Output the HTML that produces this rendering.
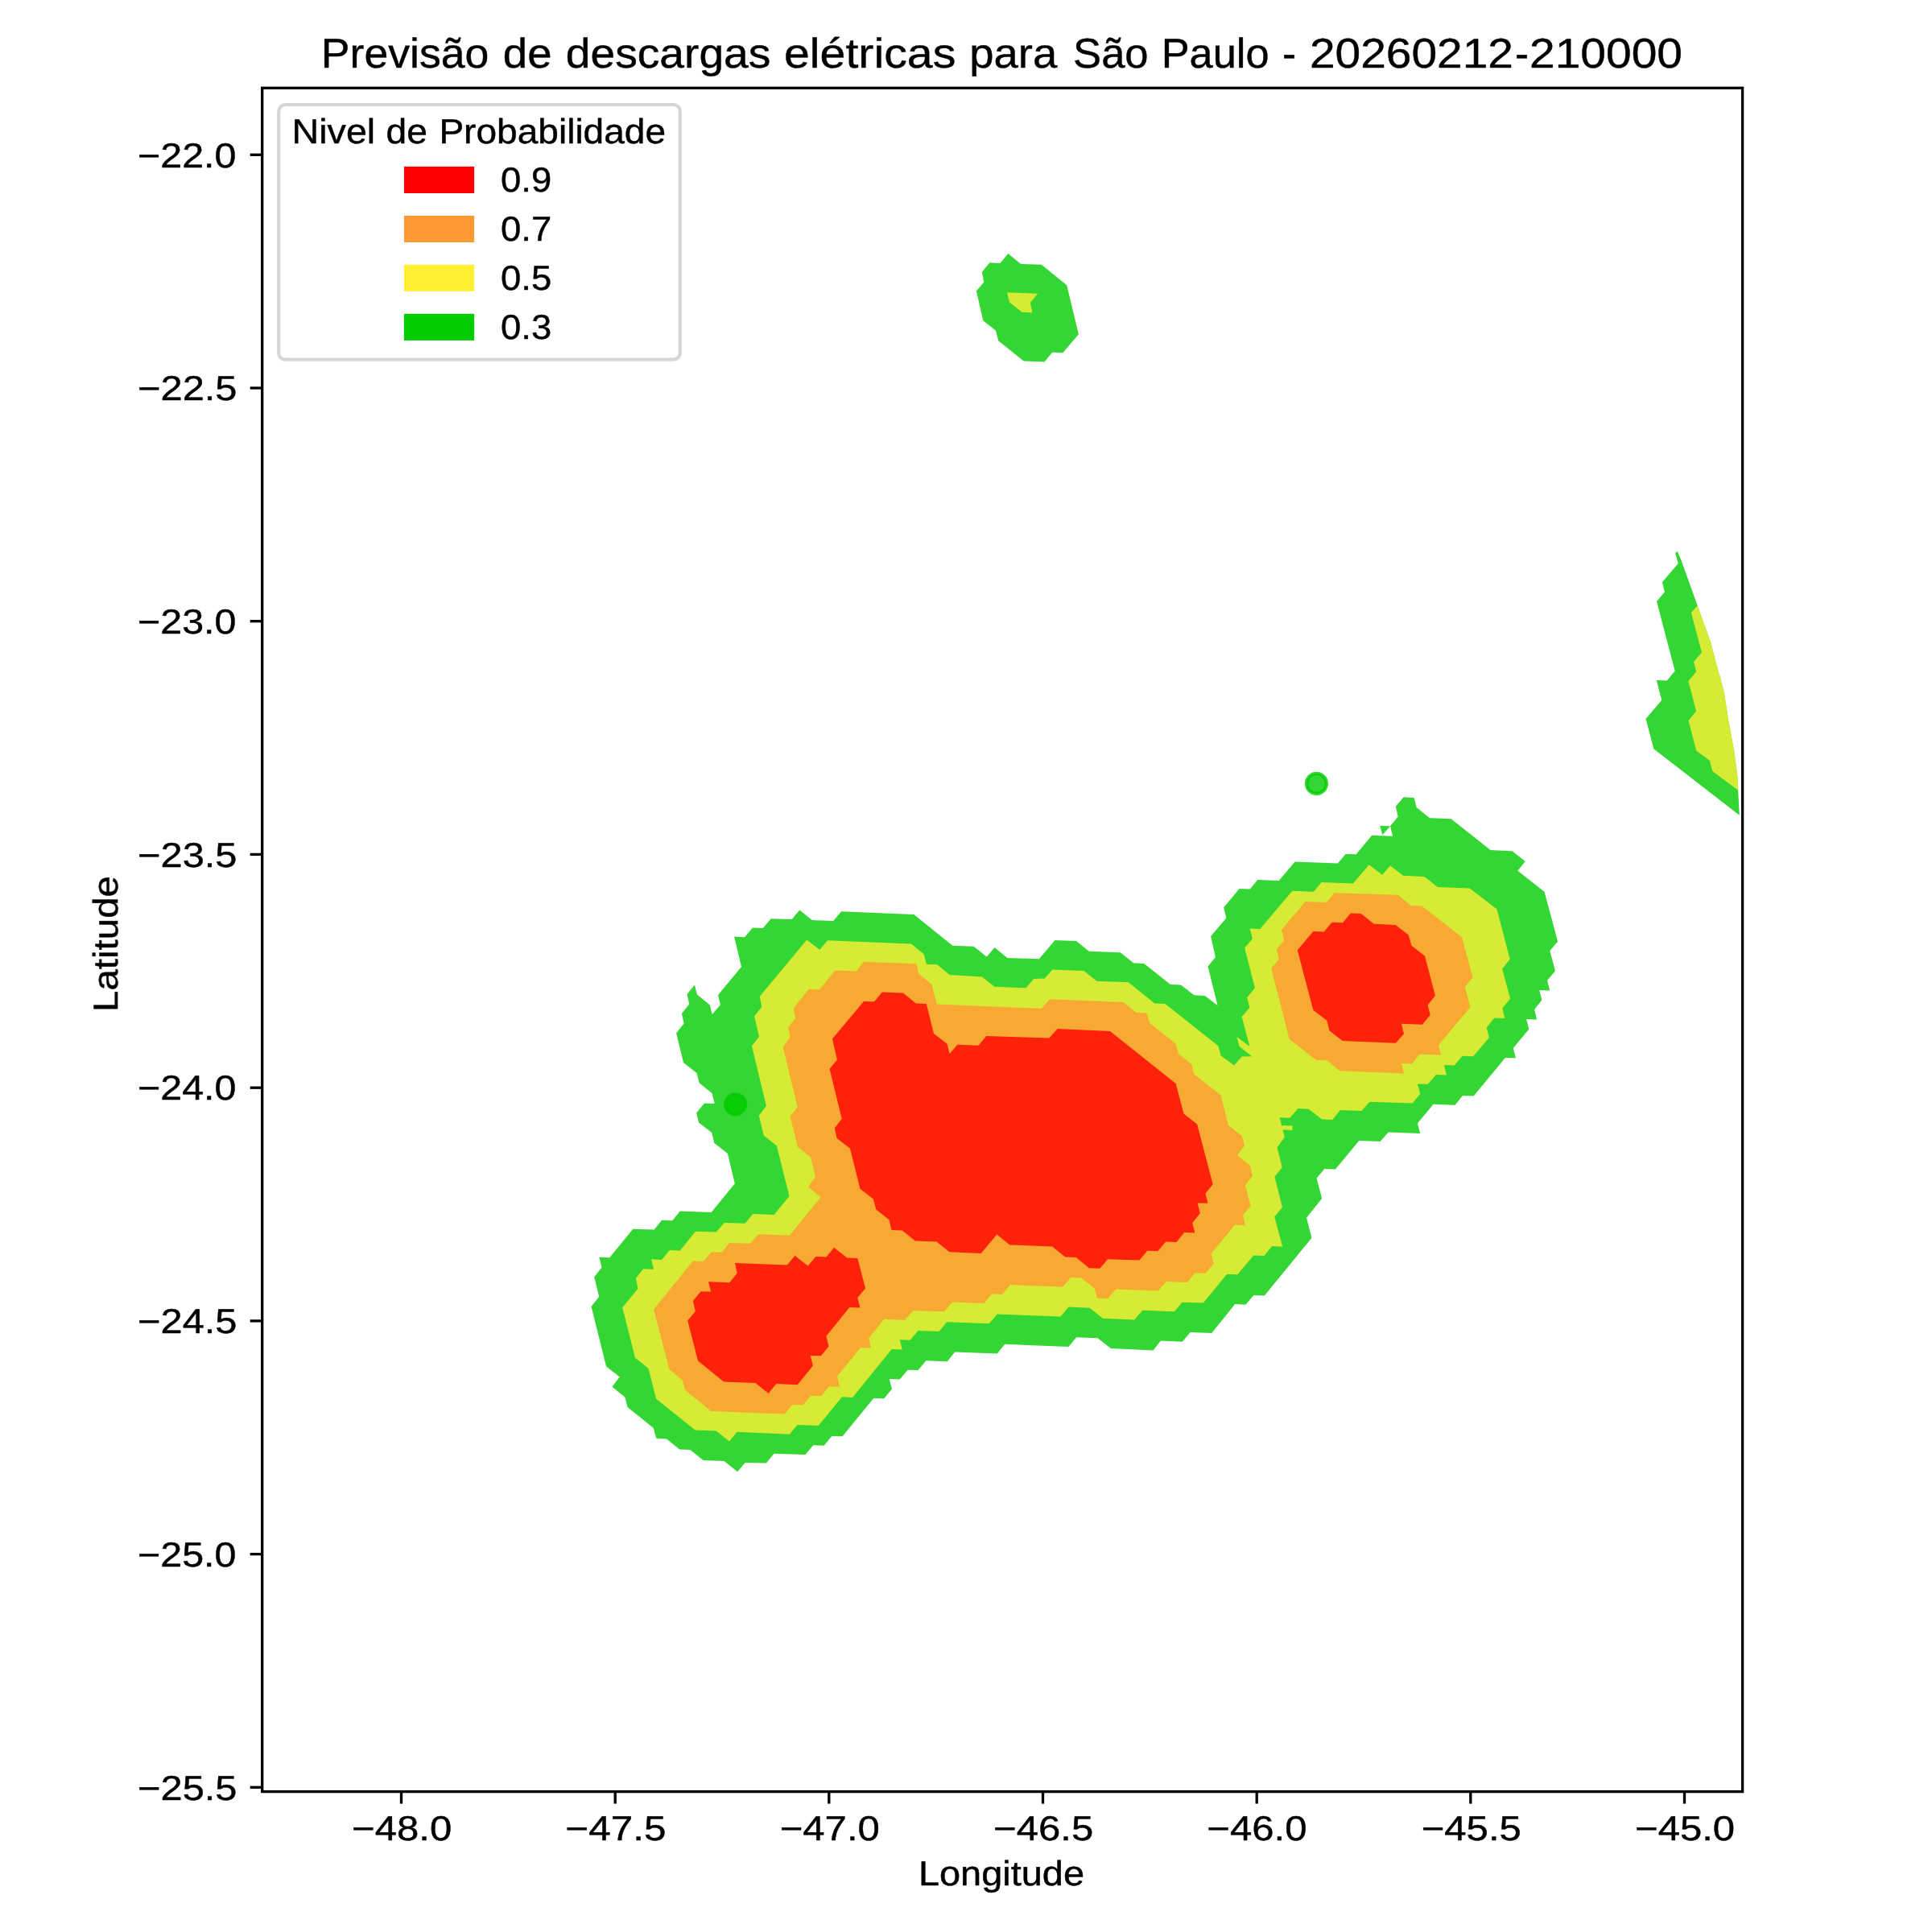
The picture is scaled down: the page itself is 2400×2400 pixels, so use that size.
<!DOCTYPE html>
<html><head><meta charset="utf-8"><title>Previsão de descargas elétricas</title>
<style>
html,body{margin:0;padding:0;background:#fff;}
svg{display:block;}
text{font-family:"Liberation Sans",sans-serif;fill:#000;text-rendering:geometricPrecision;stroke:#000;stroke-width:0.45px;stroke-linejoin:round;}
</style></head><body>
<svg width="2400" height="2400" viewBox="0 0 2400 2400">
<rect width="2400" height="2400" fill="#fff"/>
<defs><clipPath id="ax"><rect x="325.7" y="109.3" width="1838.9" height="2116.3"/></clipPath></defs>
<g clip-path="url(#ax)">
<path d="M912.8,1470.2 903.9,1432.9 887.3,1419.9 884.2,1407.0 868.0,1394.4 865.1,1382.6 874.9,1370.6 887.7,1371.0 884.6,1358.2 868.7,1345.3 865.5,1332.9 849.0,1320.1 840.1,1283.2 849.6,1271.4 846.9,1259.0 856.2,1247.4 853.5,1235.0 862.9,1223.4 866.0,1235.6 881.7,1248.2 884.8,1260.0 894.9,1248.2 892.0,1236.0 921.0,1201.0 912.1,1163.6 925.0,1164.2 934.9,1152.4 947.7,1153.0 957.7,1141.2 983.6,1142.0 993.3,1130.4 1008.8,1143.1 1035.3,1143.9 1045.1,1132.3 1135.3,1136.0 1183.4,1174.7 1209.6,1175.8 1225.8,1188.4 1235.5,1177.0 1251.5,1189.9 1290.8,1191.3 1310.5,1167.9 1337.0,1168.9 1352.9,1181.8 1391.8,1183.2 1408.0,1196.3 1421.2,1196.9 1454.0,1223.0 1467.0,1223.4 1483.4,1236.2 1496.8,1236.9 1512.5,1249.1 1500.5,1200.4 1509.9,1189.0 1504.1,1163.1 1523.3,1140.4 1520.2,1127.3 1539.5,1104.1 1552.7,1104.6 1562.3,1093.0 1588.7,1094.0 1608.6,1070.4 1661.8,1072.5 1671.5,1060.9 1684.6,1061.3 1704.2,1037.7 1730.1,1038.8 1727.0,1026.3 1736.7,1014.5 1733.8,1001.7 1743.6,990.3 1756.6,990.9 1759.7,1003.1 1776.1,1016.2 1802.6,1017.2 1851.6,1055.9 1878.6,1057.2 1894.7,1070.0 1885.4,1081.8 1918.5,1107.7 1935.1,1169.4 1925.3,1181.2 1932.0,1206.0 1922.0,1218.1 1925.3,1230.5 1912.3,1229.9 1915.4,1242.3 1906.1,1254.1 1909.2,1266.5 1896.1,1265.9 1899.3,1278.5 1879.8,1301.9 1882.9,1314.3 1869.9,1313.9 1830.6,1361.5 1817.1,1361.1 1807.4,1372.7 1780.5,1371.8 1760.8,1395.4 1764.3,1407.9 1724.6,1406.4 1714.6,1418.0 1688.3,1417.0 1658.9,1452.4 1645.3,1452.0 1635.5,1463.8 1642.2,1488.8 1623.0,1512.8 1629.4,1537.7 1570.8,1609.5 1557.3,1609.1 1547.4,1620.7 1534.2,1620.1 1505.2,1655.9 1478.7,1655.1 1468.7,1666.7 1442.0,1665.6 1432.5,1677.4 1379.8,1674.9 1363.6,1662.3 1337.1,1661.3 1327.4,1672.9 1248.3,1669.8 1238.8,1681.6 1186.2,1679.5 1176.7,1691.3 1150.4,1690.3 1140.7,1702.1 1127.6,1701.7 1117.7,1713.5 1104.8,1713.0 1108.0,1725.5 1098.2,1737.3 1085.2,1736.9 1046.5,1784.3 1033.3,1783.9 1023.7,1795.7 1010.3,1795.3 1000.5,1807.1 961.6,1805.7 951.9,1817.5 925.6,1816.9 916.1,1828.2 899.7,1815.0 873.6,1814.0 857.3,1800.9 844.2,1800.5 828.1,1787.5 815.2,1786.8 811.7,1774.0 779.6,1748.1 776.5,1735.7 760.4,1722.7 769.7,1710.4 753.1,1697.4 734.5,1622.9 744.2,1610.8 738.2,1586.2 747.5,1574.6 744.4,1561.8 757.3,1562.2 786.3,1526.8 812.5,1527.6 822.1,1515.8 835.3,1516.2 844.8,1504.4 883.6,1505.9ZM1714.2,1025.7 1727.0,1026.3 1717.3,1037.3ZM1252.3,315.1 1267.8,327.8 1293.7,328.8 1325.2,354.2 1339.9,415.3 1320.3,438.2 1307.1,437.8 1297.5,449.4 1271.6,448.4 1240.2,423.3 1236.9,410.6 1221.2,398.2 1212.9,361.4 1222.2,350.6 1219.9,337.8 1229.5,326.2 1242.4,326.9ZM2083.6,684.8 2088.0,694.8 2108.7,752.3 2125.3,798.4 2134.6,834.6 2136.6,840.0 2141.8,860.7 2147.0,893.8 2154.2,933.2 2158.9,968.4 2159.1,981.8 2160.8,1012.7 2054.3,930.3 2044.5,893.1 2064.2,869.8 2057.8,844.9 2070.7,845.5 2080.7,833.6 2058.0,747.1 2067.9,735.5 2064.9,723.3 2084.7,700.0 2081.1,687.4Z" fill="#00cc00" fill-opacity="0.8" stroke="#00cc00" stroke-opacity="0.8" stroke-width="0" />
<path d="M980.5,1486.1 964.9,1423.4 948.8,1410.6 942.8,1385.7 951.9,1373.7 933.9,1299.2 943.0,1287.8 937.0,1262.5 946.3,1251.1 943.8,1237.7 1002.2,1167.5 1018.3,1179.7 1028.1,1168.3 1132.0,1172.5 1147.7,1185.3 1150.8,1197.7 1164.1,1198.3 1179.8,1211.0 1220.0,1213.5 1235.5,1225.7 1274.5,1227.3 1284.2,1215.9 1297.6,1215.5 1307.4,1204.6 1346.3,1206.0 1362.4,1218.8 1401.8,1220.3 1434.3,1246.4 1447.3,1247.0 1513.4,1299.2 1516.5,1311.2 1533.0,1323.6 1542.6,1312.6 1555.0,1312.2 1539.5,1299.8 1536.4,1288.0 1552.3,1299.8 1542.6,1263.1 1552.3,1251.8 1549.2,1239.1 1558.9,1227.3 1546.1,1177.6 1555.8,1166.3 1552.7,1153.4 1565.3,1154.0 1605.3,1106.7 1631.8,1107.7 1641.7,1095.9 1680.8,1097.6 1700.7,1074.2 1717.1,1086.8 1727.0,1075.2 1743.1,1087.8 1769.4,1088.9 1786.0,1101.9 1825.8,1103.6 1859.5,1129.4 1875.7,1191.6 1866.1,1203.4 1876.1,1240.6 1866.3,1252.6 1869.4,1265.1 1856.4,1264.4 1846.7,1276.4 1849.8,1288.9 1830.1,1312.3 1816.6,1311.8 1806.7,1323.4 1793.9,1323.0 1797.0,1335.4 1783.9,1335.0 1773.8,1346.8 1760.8,1346.4 1764.3,1358.8 1754.6,1370.6 1701.4,1368.7 1691.4,1380.1 1664.9,1379.1 1655.2,1390.9 1642.2,1390.5 1625.8,1377.8 1612.3,1377.0 1602.4,1388.8 1589.6,1388.2 1595.8,1412.6 1586.5,1425.5 1592.7,1449.9 1583.4,1461.9 1593.0,1499.8 1583.2,1511.4 1593.2,1548.7 1580.1,1548.0 1570.4,1560.0 1557.3,1559.4 1537.3,1583.2 1524.2,1582.8 1494.8,1618.6 1468.5,1617.8 1458.8,1629.2 1419.3,1627.7 1409.3,1639.5 1369.9,1637.7 1353.7,1624.8 1327.4,1623.6 1317.5,1635.4 1238.8,1632.5 1228.7,1644.3 1176.3,1642.2 1166.5,1654.0 1140.5,1653.0 1130.7,1664.8 1117.7,1664.2 1120.8,1676.6 1107.7,1676.0 1059.1,1735.9 1046.1,1735.3 1016.7,1770.9 990.6,1769.9 980.9,1781.7 915.7,1778.8 905.9,1790.6 889.8,1777.5 863.5,1776.5 815.2,1737.8 805.5,1699.9 788.9,1686.6 773.2,1624.3 792.5,1600.7 789.8,1588.1 799.3,1576.3 812.1,1576.7 809.0,1564.3 822.1,1564.9 831.8,1552.9 844.8,1553.5 863.9,1529.7 889.8,1530.5 899.7,1518.9 925.6,1519.8 935.3,1508.0 961.6,1509.0ZM1592.7,1398.1 1605.5,1398.6 1605.5,1403.9 1592.7,1403.3ZM1250.9,363.2 1289.2,364.8 1279.9,376.1 1282.5,388.6 1269.5,387.8 1254.0,375.4ZM2108.7,752.3 2125.3,798.4 2134.6,834.6 2136.6,840.0 2141.8,860.7 2147.0,893.8 2154.2,933.2 2158.9,968.4 2159.1,981.8 2127.3,958.0 2123.9,945.1 2107.1,932.4 2097.5,895.1 2107.1,883.5 2097.3,846.0 2107.1,834.6 2104.0,822.2 2113.9,810.6 2100.9,761.1Z" fill="#fff033" fill-opacity="0.8" stroke="#fff033" stroke-opacity="0.8" stroke-width="0" />
<path d="M1019.4,1487.2 1003.9,1474.3 1013.0,1462.3 1007.0,1437.5 990.8,1424.6 981.5,1386.7 990.8,1375.4 972.6,1300.4 981.7,1288.8 979.0,1276.6 988.3,1264.8 985.6,1252.6 1004.9,1228.8 1018.1,1229.2 1037.4,1205.6 1063.7,1206.4 1073.0,1194.8 1138.2,1197.3 1141.3,1209.7 1157.5,1222.8 1163.7,1247.4 1293.9,1252.8 1303.9,1241.2 1395.6,1244.9 1411.5,1257.8 1424.6,1258.4 1428.1,1270.8 1460.6,1296.7 1463.9,1309.1 1480.5,1322.2 1483.4,1334.6 1516.5,1360.5 1526.0,1398.1 1542.6,1411.0 1546.1,1423.0 1536.8,1435.0 1552.7,1447.8 1556.0,1460.7 1546.7,1472.3 1553.6,1497.9 1543.9,1509.7 1547.0,1522.2 1534.0,1521.5 1504.6,1557.3 1507.7,1569.8 1497.7,1581.8 1484.5,1581.2 1474.9,1593.0 1448.7,1591.9 1438.7,1603.5 1386.0,1601.4 1376.1,1613.3 1363.0,1612.8 1359.5,1600.4 1343.4,1587.6 1330.1,1587.0 1320.6,1598.6 1254.9,1596.1 1245.0,1607.9 1232.2,1607.2 1222.4,1619.0 1183.1,1617.4 1173.2,1629.2 1134.2,1628.2 1124.1,1639.8 1098.2,1638.7 1079.2,1662.2 1081.9,1674.6 1068.9,1674.2 1039.9,1709.8 1043.0,1722.7 1029.9,1722.2 1020.2,1734.2 1007.2,1733.8 997.4,1745.4 984.4,1745.0 974.7,1756.6 883.1,1752.9 851.1,1726.8 847.7,1714.4 831.4,1701.1 812.1,1626.4 860.8,1566.5 873.8,1567.0 883.6,1555.4 896.6,1555.8 906.3,1544.0 932.2,1544.8 941.9,1533.2 980.9,1534.7ZM1621.4,1120.1 1647.7,1121.0 1657.6,1109.2 1736.7,1111.8 1752.9,1124.9 1766.3,1125.5 1816.0,1164.2 1829.5,1214.3 1819.8,1226.1 1826.4,1251.2 1787.0,1298.2 1790.1,1310.6 1763.6,1309.6 1753.9,1321.4 1740.9,1321.0 1744.0,1333.4 1664.5,1330.3 1648.3,1317.2 1634.9,1316.8 1601.7,1290.9 1579.2,1202.9 1588.7,1192.0 1585.8,1179.5 1595.1,1168.2 1592.0,1155.3Z" fill="#ff9933" fill-opacity="0.8" stroke="#ff9933" stroke-opacity="0.8" stroke-width="0" />
<path d="M1068.4,1476.8 1056.0,1426.7 1039.5,1414.1 1036.8,1401.2 1045.7,1389.9 1030.6,1327.7 1039.9,1316.4 1033.9,1290.5 1073.0,1243.9 1086.0,1244.3 1095.8,1232.5 1121.9,1233.5 1137.8,1246.4 1150.8,1247.0 1160.0,1283.9 1176.5,1296.7 1179.6,1309.1 1189.4,1297.7 1215.4,1298.8 1225.2,1287.0 1303.4,1289.6 1313.6,1278.1 1379.0,1281.0 1460.6,1346.0 1470.5,1383.6 1487.1,1396.5 1506.7,1471.2 1497.4,1482.6 1500.5,1494.8 1487.7,1494.4 1490.7,1507.2 1481.2,1519.0 1484.3,1531.5 1471.2,1531.1 1461.5,1542.9 1448.2,1542.4 1438.3,1554.2 1425.3,1553.8 1415.5,1565.6 1376.1,1564.2 1366.3,1575.8 1352.9,1575.2 1336.7,1562.1 1323.3,1561.5 1307.1,1548.4 1254.3,1546.4 1238.4,1533.5 1218.7,1556.9 1179.4,1555.3 1163.4,1542.4 1136.9,1541.4 1120.8,1528.4 1107.5,1528.0 1104.4,1515.3 1088.3,1502.5 1084.8,1489.6ZM913.0,1569.0 977.8,1571.5 987.5,1559.7 1003.6,1572.5 1013.4,1561.0 1026.4,1561.4 1036.1,1549.8 1052.3,1562.4 1065.3,1563.0 1075.1,1600.5 1065.3,1612.1 1068.4,1624.5 1055.4,1624.1 1026.4,1659.7 1029.5,1672.5 1019.8,1684.3 1006.7,1683.9 1009.9,1696.4 990.6,1720.2 964.3,1719.1 954.6,1730.9 938.4,1718.1 899.1,1716.4 867.0,1690.6 854.2,1640.5 863.9,1628.7 860.8,1616.0 870.5,1604.2 883.1,1604.6 880.0,1592.2 906.3,1593.3 915.7,1581.4ZM1611.7,1180.2 1631.3,1157.0 1644.6,1157.4 1654.5,1145.8 1668.0,1146.2 1677.7,1134.4 1690.8,1135.0 1706.9,1147.7 1733.6,1148.9 1749.8,1161.5 1753.3,1174.6 1769.9,1187.4 1782.9,1236.7 1773.6,1248.5 1776.7,1260.9 1766.7,1272.7 1740.9,1271.7 1744.0,1284.3 1733.8,1295.7 1667.6,1293.0 1651.4,1280.2 1648.3,1267.7 1631.3,1254.7Z" fill="#ff0000" fill-opacity="0.8" stroke="#ff0000" stroke-opacity="0.8" stroke-width="0" />
<circle cx="1635.4" cy="973.4" r="12.5" fill="#00cc00" fill-opacity="0.8" stroke="#00cc00" stroke-opacity="0.8" stroke-width="4.17"/>
<circle cx="913.5" cy="1371.8" r="12.5" fill="#00cc00" fill-opacity="0.8" stroke="#00cc00" stroke-opacity="0.8" stroke-width="4.17"/>
</g>
<g stroke="#000" stroke-width="3.33" fill="none">
<line x1="498.5" y1="2225.6" x2="498.5" y2="2240.6"/>
<line x1="764.2" y1="2225.6" x2="764.2" y2="2240.6"/>
<line x1="1029.8" y1="2225.6" x2="1029.8" y2="2240.6"/>
<line x1="1295.5" y1="2225.6" x2="1295.5" y2="2240.6"/>
<line x1="1561.2" y1="2225.6" x2="1561.2" y2="2240.6"/>
<line x1="1826.8" y1="2225.6" x2="1826.8" y2="2240.6"/>
<line x1="2092.5" y1="2225.6" x2="2092.5" y2="2240.6"/>
<line x1="325.7" y1="192.3" x2="310.7" y2="192.3"/>
<line x1="325.7" y1="482.0" x2="310.7" y2="482.0"/>
<line x1="325.7" y1="771.7" x2="310.7" y2="771.7"/>
<line x1="325.7" y1="1061.4" x2="310.7" y2="1061.4"/>
<line x1="325.7" y1="1351.2" x2="310.7" y2="1351.2"/>
<line x1="325.7" y1="1640.9" x2="310.7" y2="1640.9"/>
<line x1="325.7" y1="1930.6" x2="310.7" y2="1930.6"/>
<line x1="325.7" y1="2220.3" x2="310.7" y2="2220.3"/>
<rect x="325.7" y="109.3" width="1838.9" height="2116.3" stroke-linejoin="miter"/>
</g>
<rect x="346.2" y="130" width="498.6" height="316.7" rx="8.3" ry="8.3" fill="#fff" fill-opacity="0.8" stroke="#cccccc" stroke-opacity="0.8" stroke-width="4.17"/>
<rect x="501.9" y="206.9" width="87.2" height="33.1" fill="#ff0000"/>
<rect x="501.9" y="267.9" width="87.2" height="33.1" fill="#ff9933"/>
<rect x="501.9" y="328.8" width="87.2" height="33.1" fill="#fff033"/>
<rect x="501.9" y="389.8" width="87.2" height="33.1" fill="#00cc00"/>
<g style="opacity:0.999">
<text x="437.00" y="2285.60" font-size="43.1px" textLength="124.20" lengthAdjust="spacingAndGlyphs">−48.0</text>
<text x="702.33" y="2285.60" font-size="43.1px" textLength="125.20" lengthAdjust="spacingAndGlyphs">−47.5</text>
<text x="968.66" y="2285.60" font-size="43.1px" textLength="124.20" lengthAdjust="spacingAndGlyphs">−47.0</text>
<text x="1233.99" y="2285.60" font-size="43.1px" textLength="124.20" lengthAdjust="spacingAndGlyphs">−46.5</text>
<text x="1499.32" y="2285.60" font-size="43.1px" textLength="124.20" lengthAdjust="spacingAndGlyphs">−46.0</text>
<text x="1765.65" y="2285.60" font-size="43.1px" textLength="124.20" lengthAdjust="spacingAndGlyphs">−45.5</text>
<text x="2030.98" y="2285.60" font-size="43.1px" textLength="124.20" lengthAdjust="spacingAndGlyphs">−45.0</text>
<text x="171.00" y="207.60" font-size="43.1px" textLength="122.50" lengthAdjust="spacingAndGlyphs">−22.0</text>
<text x="171.00" y="497.31" font-size="43.1px" textLength="123.50" lengthAdjust="spacingAndGlyphs">−22.5</text>
<text x="171.00" y="787.03" font-size="43.1px" textLength="122.50" lengthAdjust="spacingAndGlyphs">−23.0</text>
<text x="171.00" y="1076.74" font-size="43.1px" textLength="123.50" lengthAdjust="spacingAndGlyphs">−23.5</text>
<text x="171.00" y="1366.46" font-size="43.1px" textLength="122.50" lengthAdjust="spacingAndGlyphs">−24.0</text>
<text x="171.00" y="1656.17" font-size="43.1px" textLength="123.50" lengthAdjust="spacingAndGlyphs">−24.5</text>
<text x="171.00" y="1945.89" font-size="43.1px" textLength="122.50" lengthAdjust="spacingAndGlyphs">−25.0</text>
<text x="171.00" y="2235.61" font-size="43.1px" textLength="123.50" lengthAdjust="spacingAndGlyphs">−25.5</text>
<text x="1140.90" y="2342.10" font-size="43.1px" textLength="206.10" lengthAdjust="spacingAndGlyphs">Longitude</text>
<text x="398.80" y="84.00" font-size="51.8px" textLength="208.60" lengthAdjust="spacingAndGlyphs">Previsão</text>
<text x="624.80" y="84.00" font-size="51.8px" textLength="60.70" lengthAdjust="spacingAndGlyphs">de</text>
<text x="702.80" y="84.00" font-size="51.8px" textLength="254.60" lengthAdjust="spacingAndGlyphs">descargas</text>
<text x="974.00" y="84.00" font-size="51.8px" textLength="213.30" lengthAdjust="spacingAndGlyphs">elétricas</text>
<text x="1204.30" y="84.00" font-size="51.8px" textLength="108.90" lengthAdjust="spacingAndGlyphs">para</text>
<text x="1333.10" y="84.00" font-size="51.8px" textLength="93.50" lengthAdjust="spacingAndGlyphs">São</text>
<text x="1442.70" y="84.00" font-size="51.8px" textLength="133.80" lengthAdjust="spacingAndGlyphs">Paulo</text>
<text x="1593.10" y="84.00" font-size="51.8px" textLength="17.00" lengthAdjust="spacingAndGlyphs">-</text>
<text x="1627.00" y="84.00" font-size="51.8px" textLength="253.00" lengthAdjust="spacingAndGlyphs">20260212</text>
<text x="1882.00" y="84.00" font-size="51.8px" textLength="17.00" lengthAdjust="spacingAndGlyphs">-</text>
<text x="1900.00" y="84.00" font-size="51.8px" textLength="190.00" lengthAdjust="spacingAndGlyphs">210000</text>
<text x="362.50" y="178.00" font-size="43.1px" textLength="103.70" lengthAdjust="spacingAndGlyphs">Nivel</text>
<text x="479.50" y="178.00" font-size="43.1px" textLength="51.40" lengthAdjust="spacingAndGlyphs">de</text>
<text x="545.40" y="178.00" font-size="43.1px" textLength="281.70" lengthAdjust="spacingAndGlyphs">Probabilidade</text>
<text x="622.00" y="238.40" font-size="43.1px" textLength="63.20" lengthAdjust="spacingAndGlyphs">0.9</text>
<text x="622.00" y="299.37" font-size="43.1px" textLength="63.20" lengthAdjust="spacingAndGlyphs">0.7</text>
<text x="622.00" y="360.34" font-size="43.1px" textLength="63.20" lengthAdjust="spacingAndGlyphs">0.5</text>
<text x="622.00" y="421.31" font-size="43.1px" textLength="63.20" lengthAdjust="spacingAndGlyphs">0.3</text>
<text transform="translate(146.10,1257.00) rotate(-90)" font-size="43.1px" textLength="169.00" lengthAdjust="spacingAndGlyphs">Latitude</text>
</g>
</svg>
</body></html>
